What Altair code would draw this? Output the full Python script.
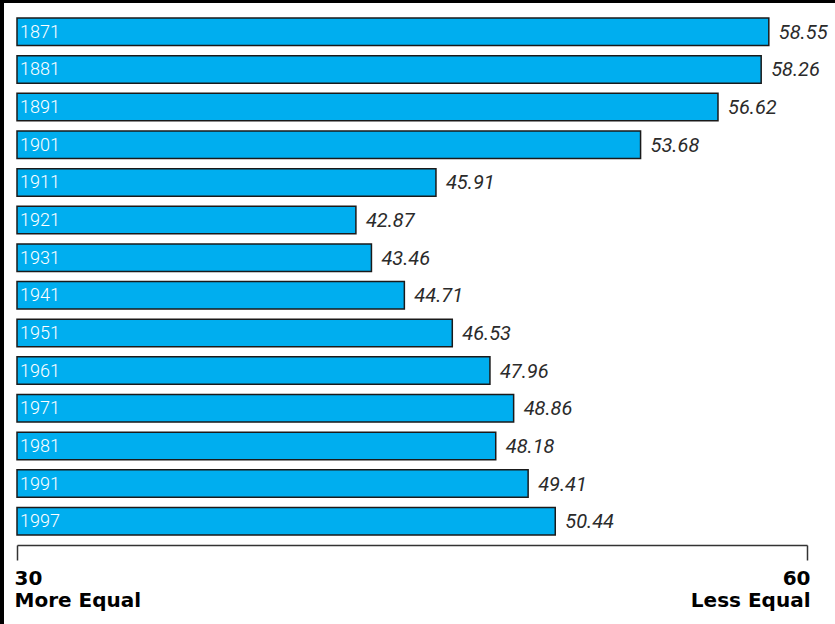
import altair as alt
import pandas as pd

years = ["1871", "1881", "1891", "1901", "1911", "1921", "1931",
         "1941", "1951", "1961", "1971", "1981", "1991", "1997"]
values = [58.55, 58.26, 56.62, 53.68, 45.91, 42.87, 43.46,
          44.71, 46.53, 47.96, 48.86, 48.18, 49.41, 50.44]
axis_min = 30
axis_max = 60

df = pd.DataFrame({"year": years, "value": values})
df["base"] = axis_min
df["label"] = df["value"].map(lambda v: f"{v:.2f}")

W, H = 790, 527

xscale = alt.Scale(domain=[axis_min, axis_max], zero=False, nice=False)
yscale = alt.Scale(domain=years, paddingInner=0.27, paddingOuter=0.135)

base = alt.Chart(df)

bars = base.mark_bar(fill="#00AEEF", stroke="#1a1a1a", strokeWidth=1.5).encode(
    x=alt.X("base:Q", scale=xscale,
            axis=alt.Axis(values=[axis_min, axis_max], grid=False, offset=5,
                          domainColor="#333333", domainWidth=1.5,
                          tickColor="#333333", tickWidth=1.5, tickSize=15,
                          labelFlush=True, labelFlushOffset=3, labelPadding=8,
                          labelFont="DejaVu Sans", labelFontSize=20,
                          labelFontWeight="bold", labelColor="#000000",
                          labelLineHeight=22,
                          labelExpr="datum.value == 30 ? ['30', 'More Equal'] : ['60', 'Less Equal']",
                          title=None)),
    x2="value:Q",
    y=alt.Y("year:N", scale=yscale, axis=None, sort=years),
)

year_text = base.mark_text(align="left", baseline="middle", dx=3, dy=1,
                           color="white", font="Roboto", fontWeight=300,
                           fontSize=18).encode(
    x=alt.X("base:Q", scale=xscale),
    y=alt.Y("year:N", scale=yscale, sort=years),
    text="year:N",
)

val_text = base.mark_text(align="left", baseline="middle", dx=10, dy=1,
                          color="#2b2b2b", font="Roboto", fontStyle="italic",
                          fontWeight=400, fontSize=20).encode(
    x=alt.X("value:Q", scale=xscale),
    y=alt.Y("year:N", scale=yscale, sort=years),
    text="label:N",
)

one = alt.Chart(pd.DataFrame({"k": [0]}))
left_frame = one.mark_rule(color="black", strokeWidth=4).encode(
    x=alt.value(-15), y=alt.value(-14), y2=alt.value(612))
top_frame = one.mark_rule(color="black", strokeWidth=3).encode(
    x=alt.value(-18), x2=alt.value(820), y=alt.value(-11.5))

chart = alt.layer(bars, year_text, val_text, left_frame, top_frame).properties(
    width=W, height=H,
    autosize=alt.AutoSizeParams(type="none"),
    padding={"left": 17, "top": 13, "right": 28, "bottom": 84},
    background="white",
).configure_view(stroke=None)

chart.save("out.html", embed_options={"renderer": "svg", "actions": False})
